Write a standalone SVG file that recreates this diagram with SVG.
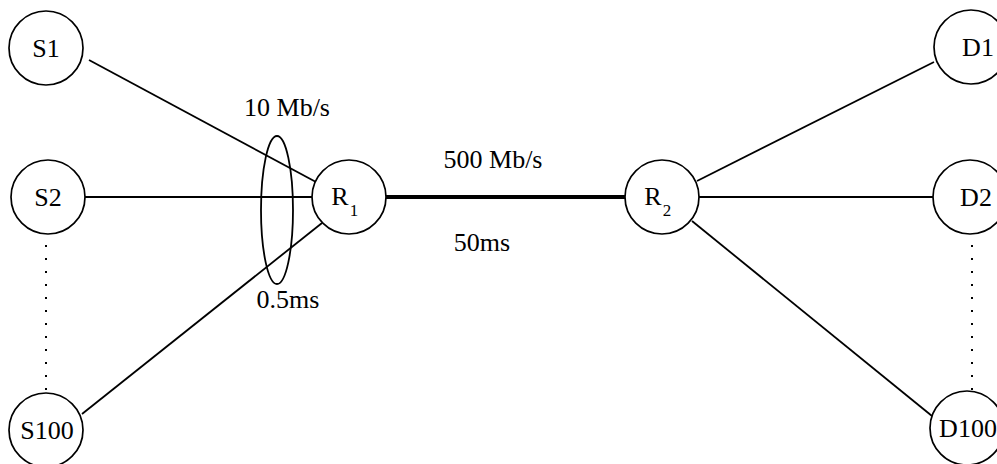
<svg xmlns="http://www.w3.org/2000/svg" width="997" height="464" viewBox="0 0 997 464">
<style>
.n{fill:#fff;stroke:#000;stroke-width:1.7}
.t{font-family:"Liberation Serif","Times New Roman","DejaVu Serif",serif;font-size:26px;fill:#000;text-anchor:middle}
.s{font-size:17px}
.e{stroke:#000;stroke-width:1.8;fill:none}
.th{stroke:#000;stroke-width:4;fill:none}
.d{stroke:#000;stroke-width:2;stroke-dasharray:2 11;fill:none}
</style>
<rect width="997" height="464" fill="#fff"/>
<g id="connectors">
<line class="e" x1="89" y1="60" x2="316" y2="182"/>
<line class="e" x1="85" y1="197" x2="312" y2="197"/>
<line class="e" x1="82" y1="414" x2="322" y2="223"/>
<line class="th" x1="386" y1="197" x2="625" y2="197"/>
<line class="e" x1="697" y1="181" x2="934" y2="62"/>
<line class="e" x1="699" y1="197" x2="933" y2="197"/>
<line class="e" x1="692" y1="221" x2="932" y2="416"/>
<line class="d" x1="46" y1="245" x2="46" y2="392"/>
<line class="d" x1="972" y1="245" x2="972" y2="392"/>
<ellipse class="e" cx="277" cy="210" rx="16" ry="74"/>
<text class="t" x="287" y="116" font-family="Liberation Serif, serif">10 Mb/s</text>
<text class="t" x="288" y="308" font-family="Liberation Serif, serif">0.5ms</text>
<text class="t" x="493" y="168" font-family="Liberation Serif, serif">500 Mb/s</text>
<text class="t" x="482" y="251" font-family="Liberation Serif, serif">50ms</text>
</g>
<g id="S1"><circle class="n" cx="46" cy="48" r="37"/><text class="t" x="46" y="57" font-family="Liberation Serif, serif">S1</text></g>
<g id="S2"><circle class="n" cx="48" cy="197" r="37"/><text class="t" x="48" y="206" font-family="Liberation Serif, serif">S2</text></g>
<g id="S100"><circle class="n" cx="46" cy="430" r="37"/><text class="t" x="47" y="439" font-family="Liberation Serif, serif">S100</text></g>
<g id="R1"><circle class="n" cx="349" cy="197" r="37"/><text class="t" x="340" y="205" font-family="Liberation Serif, serif">R</text><text class="t s" x="354" y="216" font-family="Liberation Serif, serif">1</text></g>
<g id="R2"><circle class="n" cx="662" cy="197" r="37"/><text class="t" x="653" y="205" font-family="Liberation Serif, serif">R</text><text class="t s" x="667" y="216" font-family="Liberation Serif, serif">2</text></g>
<g id="D1"><circle class="n" cx="971" cy="47" r="37"/><text class="t" x="978" y="56" font-family="Liberation Serif, serif">D1</text></g>
<g id="D2"><circle class="n" cx="970" cy="197" r="37"/><text class="t" x="976" y="206" font-family="Liberation Serif, serif">D2</text></g>
<g id="D100"><circle class="n" cx="967" cy="428" r="37"/><text class="t" x="968" y="437" font-family="Liberation Serif, serif">D100</text></g>
</svg>
